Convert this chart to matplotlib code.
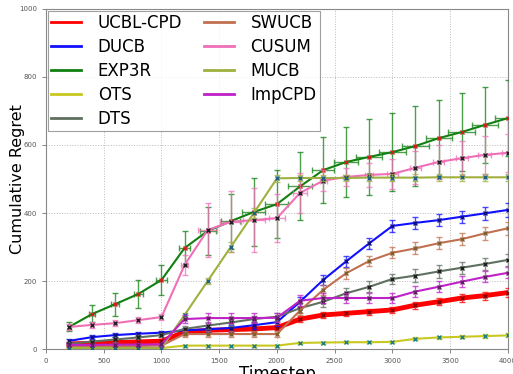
import matplotlib.pyplot as plt
import numpy as np
from matplotlib.lines import Line2D

t = np.arange(200, 4001, 200)

names = ['UCBL-CPD', 'DUCB', 'EXP3R', 'OTS', 'DTS', 'SWUCB', 'CUSUM', 'MUCB', 'ImpCPD']
colors = ['#ff0000', '#1010ff', '#108010', '#c8c820', '#607060',
          '#c07050', '#f070b8', '#a0b040', '#c020c8']

ucbl = [15, 17, 19, 21, 23, 50, 55, 57, 59, 63, 88, 100, 105, 110, 115, 129, 139, 150, 157, 166]
ducb = [24, 35, 41, 45, 48, 55, 58, 62, 70, 79, 139, 203, 258, 311, 362, 371, 379, 389, 399, 409]
exp3r = [65, 103, 132, 162, 203, 297, 347, 376, 403, 426, 478, 526, 550, 565, 579, 597, 620, 638, 659, 679]
ots = [3, 3, 3, 3, 3, 10, 10, 10, 10, 10, 18, 19, 20, 20, 21, 30, 34, 36, 38, 40]
dts = [15, 22, 28, 34, 41, 59, 69, 78, 88, 95, 120, 139, 164, 183, 206, 216, 228, 239, 250, 262]
swucb = [8, 8, 9, 9, 10, 44, 44, 44, 44, 44, 113, 174, 223, 259, 283, 296, 311, 323, 340, 355]
cusum = [65, 71, 76, 85, 94, 247, 350, 374, 379, 385, 459, 495, 506, 512, 515, 533, 550, 561, 571, 577]
mucb = [3, 3, 3, 3, 3, 100, 200, 300, 400, 502, 503, 503, 503, 504, 504, 504, 505, 505, 505, 505]
impcpd = [12, 12, 13, 13, 14, 88, 91, 91, 91, 92, 142, 150, 150, 150, 150, 169, 183, 198, 212, 224]

err_ucbl = [4, 4, 4, 5, 5, 8, 8, 8, 8, 8, 8, 8, 8, 9, 9, 10, 10, 12, 12, 12]
err_ducb = [5, 5, 6, 6, 6, 8, 8, 8, 10, 12, 14, 14, 16, 16, 18, 18, 18, 18, 20, 20]
err_exp3r = [13, 25, 34, 40, 44, 50, 70, 81, 100, 100, 100, 98, 103, 111, 115, 118, 112, 115, 112, 112]
err_ots = [2, 2, 2, 2, 2, 3, 3, 3, 3, 3, 3, 3, 3, 3, 3, 4, 4, 5, 5, 6]
err_dts = [5, 5, 6, 6, 7, 8, 10, 10, 10, 12, 14, 14, 14, 16, 16, 18, 18, 18, 18, 18]
err_swucb = [4, 4, 4, 4, 5, 10, 10, 10, 10, 10, 14, 14, 16, 16, 16, 18, 18, 18, 20, 20]
err_cusum = [8, 8, 8, 8, 8, 30, 80, 90, 95, 70, 60, 30, 26, 35, 45, 48, 50, 52, 55, 55]
err_mucb = [2, 2, 2, 2, 2, 6, 10, 14, 16, 10, 10, 10, 10, 10, 10, 10, 10, 10, 10, 10]
err_impcpd = [4, 4, 4, 4, 4, 12, 14, 14, 14, 14, 16, 16, 16, 16, 16, 16, 16, 16, 16, 16]

series = [ucbl, ducb, exp3r, ots, dts, swucb, cusum, mucb, impcpd]
errs = [err_ucbl, err_ducb, err_exp3r, err_ots, err_dts, err_swucb, err_cusum, err_mucb, err_impcpd]
mcolors = ['#8a0000', '#101080', '#d02020', '#208080', '#202020',
           '#806030', '#202020', '#206080', '#602060']

fig = plt.figure(figsize=(5.13, 3.74), dpi=100)
ax = fig.add_axes([0.0897, 0.0668, 0.9003, 0.9092])

for i, (name, y, e) in enumerate(zip(names, series, errs)):
    lw = 3.5 if i == 0 else 1.5
    xe = e if name in ('EXP3R', 'CUSUM') else None
    # error bars a bit lighter than the lines
    ax.errorbar(t, y, yerr=e, xerr=xe, fmt='none', ecolor=colors[i], alpha=0.75,
                elinewidth=1.0, capsize=2, capthick=1.0, zorder=3 + i * 0.1)
    ax.plot(t, y, color=colors[i], lw=lw, marker='x', ms=2.5, mec=mcolors[i],
            label=name, zorder=3.05 + i * 0.1)

ax.set_xlim(0, 4000)
ax.set_ylim(0, 1000)
ax.set_xticks(np.arange(0, 4001, 500))
ax.set_yticks(np.arange(0, 1001, 200))
ax.tick_params(labelsize=5, colors='#555555', length=3, width=0.5)
ax.grid(True, ls=':', color='#bbbbbb', lw=0.7)
for s in ax.spines.values():
    s.set_color('#888888')
ax.set_xlabel('Timestep', fontsize=12, labelpad=1)
ax.set_ylabel('Cumulative Regret', fontsize=11.5)
ax.yaxis.set_label_coords(-0.046, 0.5)

hl = [Line2D([], [], color=c, lw=2) for c in colors]
leg = ax.legend(hl, names, loc='upper left', ncol=2, fontsize=12, frameon=True,
                fancybox=False, edgecolor='#888888', borderaxespad=0.1,
                handlelength=1.8, handletextpad=1.0, columnspacing=1.3,
                labelspacing=0.36, borderpad=0.2)
leg.get_frame().set_linewidth(0.8)
leg.set_zorder(10)

fig.savefig('out.png', dpi=100)
